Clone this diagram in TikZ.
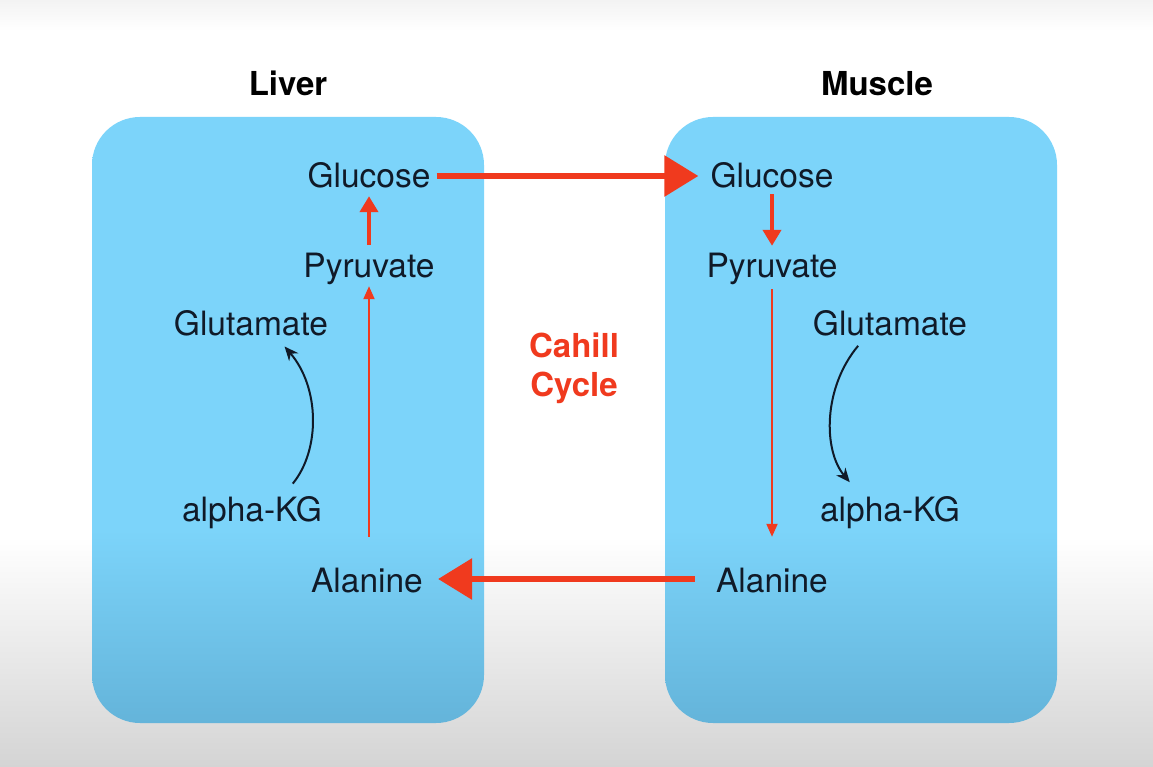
\documentclass[tikz,border=0pt]{standalone}
\usepackage{fontspec}
\setmainfont{TeX Gyre Heros}
\usetikzlibrary{positioning, arrows.meta}
\definecolor{celltop}{RGB}{124, 212, 250}
\definecolor{cellbot}{RGB}{100, 180, 218}
\definecolor{pagetop}{RGB}{243, 243, 243}
\definecolor{pagebot}{RGB}{212, 212, 212}
\definecolor{cyclecol}{RGB}{240, 58, 30}
\definecolor{inkcol}{RGB}{16, 26, 40}
\pgfdeclareverticalshading{cellshade}{100bp}{color(0bp)=(cellbot); color(25bp)=(cellbot);
  color(41bp)=(celltop); color(100bp)=(celltop)}
\pgfdeclareverticalshading{pageshade}{100bp}{color(0bp)=(pagebot); color(25bp)=(pagebot);
  color(40bp)=(white); color(73bp)=(white); color(75bp)=(pagetop); color(100bp)=(pagetop)}
\tikzset{
  cell/.style={shade, shading=cellshade, rounded corners=48pt,
               minimum width=392pt, minimum height=606pt},
  organ/.style={font=\fontsize{33}{40}\selectfont\bfseries},
  metab/.style={font=\fontsize{33.5}{40}\selectfont, text=inkcol, anchor=base,
                text height=24pt, text depth=6pt, inner sep=0pt},
  transport/.style={-{Triangle[length=34pt, width=40pt]}, line width=6pt, draw=cyclecol},
  stepflow/.style={-{Triangle[length=16pt, width=18pt]}, line width=4pt, draw=cyclecol},
  longflow/.style={-{Triangle[length=13pt, width=11pt]}, line width=2pt, draw=cyclecol},
  transam/.style={-{Stealth[length=14pt, width=12pt]}, line width=2pt, draw=inkcol,
                  bend right=40},
}

\begin{document}
\begin{tikzpicture}[x=1pt, y=-1pt]
  \useasboundingbox (0,0) rectangle (1153,767);
  \shade[shading=pageshade] (0,0) rectangle (1153,767);

  \node[cell] (livercell) at (288,420) {};
  \node[cell] (musclecell) at (861,420) {};
  \node[organ, above=17pt of livercell] (liver) {Liver};
  \node[organ, above=17pt of musclecell, xshift=16pt] (muscle) {Muscle};

  \node[metab] (lglu) at (369,188) {Glucose};
  \node[metab] (lpyr) at (369,277) {Pyruvate};
  \node[metab] (lglut) at (251,335) {Glutamate};
  \node[metab] (lakg) at (252,521) {alpha-KG};
  \node[metab] (lala) at (367,592) {Alanine};

  \node[metab] (mglu) at (772,188) {Glucose};
  \node[metab] (mpyr) at (772,277) {Pyruvate};
  \node[metab] (mglut) at (890,335) {Glutamate};
  \node[metab] (makg) at (890,521) {alpha-KG};
  \node[metab] (mala) at (772,592) {Alanine};

  \node[font=\fontsize{33}{39}\selectfont\bfseries, text=cyclecol, align=center]
    (cahill) at (574,368) {Cahill\\Cycle};

  \draw[transport, shorten <=6pt, shorten >=12pt] ([yshift=3pt]lglu.east) -- ([yshift=3pt]mglu.west);
  \draw[transport, shorten <=21pt, shorten >=15pt] ([yshift=4pt]mala.west) -- ([yshift=4pt]lala.east);

  \draw[stepflow, shorten <=8pt, shorten >=2pt] (lpyr.north) -- (lglu.south);
  \draw[longflow, shorten <=31pt, shorten >=3pt] (lpyr.south |- lala.north) -- (lpyr.south);
  \draw[stepflow, shorten >=7pt] (mglu.south) -- (mpyr.north);
  \draw[longflow, shorten <=6pt, shorten >=31pt] (mpyr.south) -- (mala.north);

  \draw[transam, shorten <=17pt, shorten >=7pt] ([xshift=30pt]lakg.north) to ([xshift=29pt]lglut.south);
  \draw[transam, shorten <=6pt, shorten >=19pt] ([xshift=-28pt]mglut.south) to ([xshift=-28pt]makg.north);
\end{tikzpicture}
\end{document}
